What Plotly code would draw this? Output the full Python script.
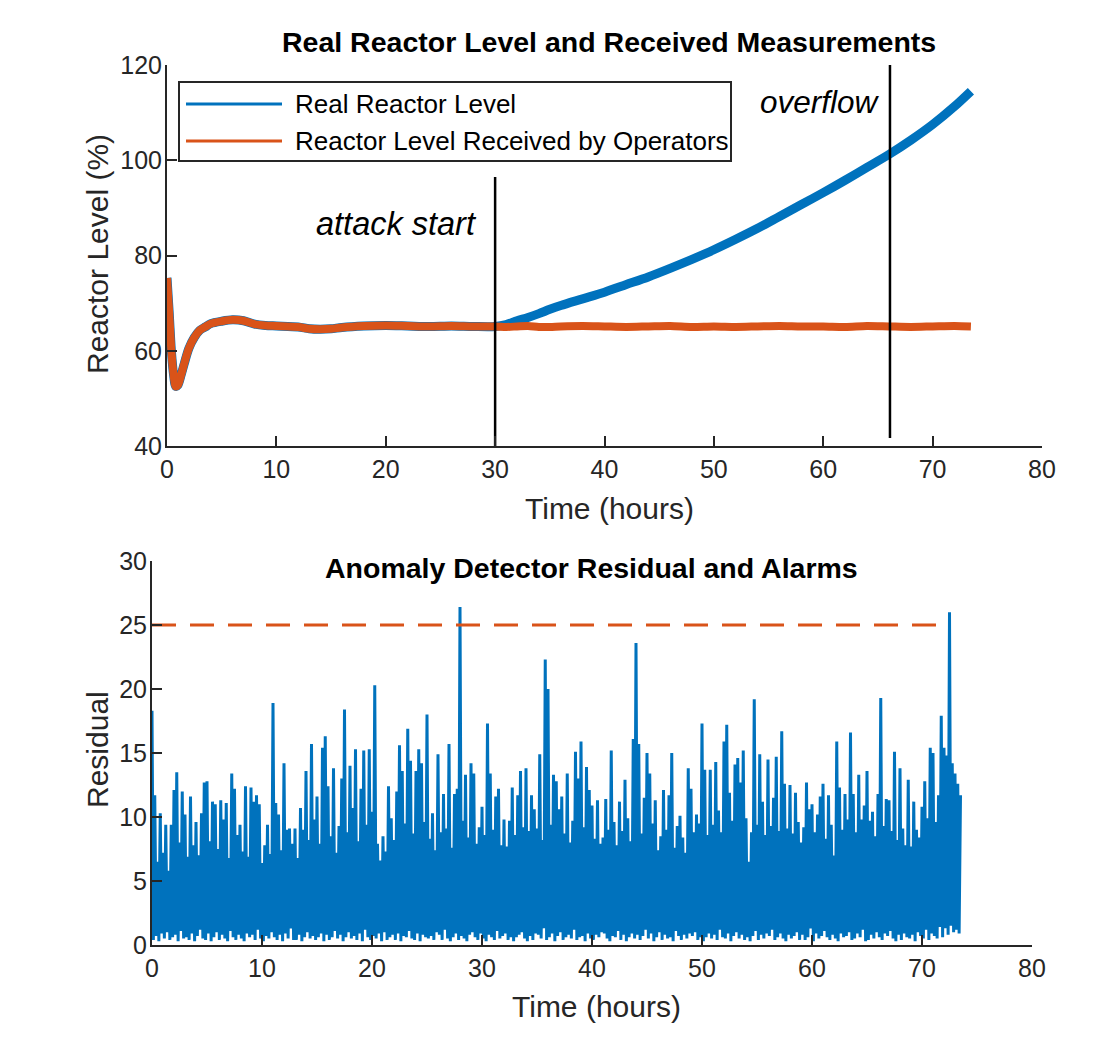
import numpy as np
import plotly.graph_objects as go

# ---------------- data ----------------
# Top panel: reactor level (%), smooth centre-line of the noisy band
level_time = [0, 0.2, 0.4, 0.6, 0.8, 1.0, 1.3, 1.6, 2.0, 2.5, 3.0, 3.5, 4.0, 5.0, 6.0, 7.0,
              8.0, 9.0, 10, 12, 13, 14, 15, 16, 18, 20, 22, 24, 26, 28, 30]
level_common = [75.3, 68.0, 60.0, 55.0, 52.5, 52.8, 55.0, 57.5, 60.5, 62.8, 64.3, 65.0, 65.7,
                66.2, 66.5, 66.3, 65.6, 65.3, 65.2, 65.0, 64.6, 64.5, 64.6, 64.9, 65.2, 65.3,
                65.2, 65.1, 65.2, 65.1, 65.1]

attack_time = [30, 31, 32, 33, 34, 35, 36, 38, 40, 42, 44, 46, 48, 50, 52, 54, 56, 58, 60,
               62, 64, 66, 68, 70, 72, 73.5]
real_after = [65.1, 65.5, 66.3, 67.0, 67.8, 68.7, 69.5, 70.9, 72.3, 73.9, 75.5, 77.3, 79.2,
              81.2, 83.4, 85.7, 88.2, 90.7, 93.2, 95.8, 98.5, 101.2, 104.2, 107.5, 111.3, 114.5]
received_after = [65.1, 65.0, 65.1, 65.2, 65.0, 65.0, 65.1, 65.2, 65.1, 65.0, 65.1, 65.2,
                  65.0, 65.1, 65.0, 65.1, 65.2, 65.1, 65.1, 65.0, 65.2, 65.1, 65.0, 65.1,
                  65.2, 65.1]

ATTACK_START = 30
OVERFLOW_TIME = 66.1
attack_line_y = [40, 96.5]
overflow_line_y = [41.7, 120]

# Bottom panel: residual, local peaks (every 0.25 h) and troughs between them
RESIDUAL_STEP = 0.25
residual_peaks = [
    18.3, 11.7, 6.5, 10.3,   7.2, 9.4, 5.8, 9.4,    12.1, 13.5, 8.0, 12.0,  10.2, 6.9, 11.6, 7.8,
    9.6, 7.0, 10.3, 12.7,    12.8, 8.1, 11.2, 11.0, 7.5, 11.3, 9.8, 11.1,   6.8, 13.4, 12.2, 8.6,
    9.4, 7.3, 12.4, 6.9,     12.3, 11.2, 11.7, 11.0, 6.4, 7.8, 9.4, 7.1,    18.9, 11.1, 10.2, 7.4,
    14.2, 9.0, 9.1, 7.9,     9.1, 6.8, 10.7, 9.0,   13.6, 8.2, 15.7, 9.8,   11.6, 7.9, 15.4, 16.3,
    12.4, 8.5, 13.8, 7.2,    9.3, 13.0, 18.4, 8.8,  14.0, 10.7, 15.3, 8.1,  12.2, 15.2, 9.4, 15.3,
    10.4, 20.3, 7.9, 6.6,    8.5, 7.3, 12.4, 9.9,   8.2, 12.0, 15.6, 13.6,  9.5, 16.9, 14.4, 8.7,
    13.6, 15.3, 14.2, 9.6,   18.0, 8.3, 10.3, 7.4,  14.9, 8.8, 11.8, 9.1,   15.7, 7.6, 11.8, 12.2,
    26.4, 9.7, 13.3, 8.4,    14.2, 13.4, 7.9, 9.2,  10.8, 8.6, 17.3, 13.4,  9.0, 11.6, 12.2, 7.8,
    9.8, 7.7, 9.7, 12.3,     8.6, 11.7, 13.6, 9.2,  13.8, 8.9, 11.7, 10.6,  9.1, 14.9, 8.2, 22.3,
    20.0, 9.4, 13.3, 12.8,   10.6, 11.6, 8.7, 13.4, 8.0, 9.7, 15.1, 13.0,   15.9, 9.2, 13.9, 12.1,
    10.9, 8.3, 11.3, 7.9,    8.4, 11.4, 9.0, 15.2,  9.6, 7.8, 11.2, 8.9,    12.9, 9.9, 8.1, 16.1,
    23.6, 15.7, 8.7, 11.5,   15.0, 13.4, 9.5, 11.3, 7.4, 8.5, 12.1, 9.0,    11.7, 15.0, 7.6, 9.3,
    10.1, 8.4, 7.2, 13.8,    12.2, 8.8, 10.2, 9.5,  17.3, 13.7, 8.6, 13.7,  9.4, 14.3, 10.5, 8.8,
    15.9, 17.2, 11.9, 9.7,   14.1, 14.6, 12.7, 15.2, 9.9, 6.5, 8.8, 19.2,   9.4, 14.9, 11.2, 8.6,
    14.5, 9.3, 11.5, 14.7,   8.9, 16.7, 12.6, 9.1,  12.5, 8.7, 11.9, 9.6,   8.0, 9.2, 12.7, 10.6,
    11.0, 8.8, 10.2, 11.6,   12.6, 8.3, 11.7, 9.4,  7.0, 15.9, 12.3, 9.0,   11.8, 9.8, 16.6, 11.8,
    8.8, 13.3, 9.8, 10.9,    13.6, 9.7, 10.4, 8.5,  11.8, 19.3, 9.3, 11.4,  11.3, 8.9, 15.1, 8.2,
    13.8, 9.1, 7.8, 12.9,    7.7, 11.2, 9.0, 8.4,   10.8, 12.8, 9.9, 15.4,  15.0, 9.6, 11.7, 17.9,
    15.4, 14.8, 26.0, 14.2,  13.4, 12.6, 11.7,
]
residual_troughs = [
    0.4, 0.7, 0.3, 0.9,  0.5, 1.0, 0.4, 0.6,  0.8, 0.3, 1.1, 0.5,  0.6, 0.4, 0.9, 0.3,
    0.7, 1.2, 0.5, 0.4,  0.9, 0.3, 0.6, 1.0,  0.4, 0.8, 0.5, 0.3,  1.1, 0.6, 0.4, 0.8,
    0.5, 0.3, 0.9, 0.6,  0.8, 0.4, 1.2, 0.5,  0.3, 0.7, 0.5, 1.0,  0.6, 0.4, 0.8, 0.3,
    0.9, 0.5, 1.3, 0.4,  0.4, 0.8, 0.3, 0.6,  1.0, 0.5, 0.7, 0.4,  0.6, 0.9, 0.3, 0.8,
    0.4, 0.6, 1.1, 0.5,  0.8, 0.3, 0.6, 1.0,  0.5, 0.7, 0.4, 0.9,  0.3, 1.2, 0.6, 0.4,
    0.7, 0.5, 0.9, 0.3,  1.0, 0.4, 0.6, 0.8,  0.4, 0.9, 0.3, 0.7,  0.6, 1.1, 0.5, 0.4,
    0.9, 0.3, 0.8, 0.6,  0.5, 0.7, 0.4, 1.0,  0.8, 0.4, 1.2, 0.5,  0.3, 0.6, 0.9, 0.4,
    0.7, 0.5, 0.3, 0.8,  1.0, 0.6, 0.4, 0.9,  0.5, 0.3, 0.8, 0.6,  0.4, 1.1, 0.5, 0.7,
    0.9, 0.4, 0.6, 0.3,  0.6, 0.8, 1.0, 0.5,  0.3, 0.7, 0.4, 0.9,  0.8, 0.5, 1.3, 0.4,
    0.6, 0.9, 0.3, 0.7,  1.0, 0.4, 0.6, 0.8,  0.5, 1.2, 0.4, 0.6,  0.7, 0.3, 0.9, 0.5,
    0.4, 0.8, 0.6, 1.0,  0.9, 0.5, 0.3, 0.7,  0.6, 1.1, 0.4, 0.8,  0.3, 0.6, 0.9, 0.5,
    0.8, 0.4, 0.7, 1.2,  0.5, 0.9, 0.3, 0.6,  1.0, 0.4, 0.8, 0.5,  0.6, 0.3, 1.1, 0.7,
    0.4, 0.8, 0.5, 0.9,  0.7, 1.0, 0.4, 0.6,  0.3, 0.6, 0.9, 0.5,  0.8, 0.4, 1.2, 0.6,
    0.5, 0.9, 0.3, 0.7,  1.0, 0.5, 0.8, 0.4,  0.6, 0.3, 0.7, 1.1,  0.4, 0.8, 0.5, 0.9,
    0.7, 1.2, 0.4, 0.6,  0.9, 0.5, 0.3, 0.8,  0.5, 0.7, 1.0, 0.4,  0.8, 0.4, 0.6, 1.3,
    0.3, 0.9, 0.5, 0.7,  1.1, 0.6, 0.4, 0.8,  0.5, 0.3, 0.9, 0.6,  0.7, 1.0, 0.4, 0.5,
    0.9, 0.6, 1.2, 0.3,  0.4, 0.8, 0.5, 1.0,  0.6, 0.4, 0.9, 0.7,  1.1, 0.5, 0.3, 0.8,
    0.4, 0.9, 0.6, 0.5,  0.8, 0.3, 1.0, 0.7,  0.5, 1.2, 0.4, 0.9,  0.7, 0.5, 1.4, 0.6,
    1.3, 0.8, 1.5, 1.0,  1.2, 0.9, 1.1,
]
ALARM_THRESHOLD = 25
threshold_time = [0, 72.3]

x_ticks = [0, 10, 20, 30, 40, 50, 60, 70, 80]
top_y_ticks = [40, 60, 80, 100, 120]
bottom_y_ticks = [0, 5, 10, 15, 20, 25, 30]

# ---------------- styling ----------------
BLUE = "#0072BD"
ORANGE = "#D95319"
AX = "#262626"
FONT = "Liberation Sans, Arial, sans-serif"
W, H = 1099, 1063

def px(xp):
    return xp / W

def py(yp):
    return 1 - yp / H

# build residual zig-zag
res_t, res_v = [], []
for i, pk in enumerate(residual_peaks):
    t = i * RESIDUAL_STEP
    res_t.append(t)
    res_v.append(pk)
    if i < len(residual_peaks) - 1:
        res_t.append(t + RESIDUAL_STEP / 2)
        res_v.append(residual_troughs[i])

fig = go.Figure()

real_t = level_time + attack_time[1:]
real_v = level_common + real_after[1:]
recv_t = level_time + attack_time[1:]
recv_v = level_common + received_after[1:]

fig.add_trace(go.Scatter(x=real_t, y=real_v, mode="lines", name="Real Reactor Level",
                         line=dict(color=BLUE, width=9, shape="spline", smoothing=0.8),
                         showlegend=False, xaxis="x", yaxis="y"))
fig.add_trace(go.Scatter(x=recv_t, y=recv_v, mode="lines",
                         name="Reactor Level Received by Operators",
                         line=dict(color=ORANGE, width=8, shape="spline", smoothing=0.8),
                         showlegend=False, xaxis="x", yaxis="y"))
fig.add_trace(go.Scatter(x=[ATTACK_START, ATTACK_START], y=attack_line_y, mode="lines",
                         line=dict(color="black", width=2.5), showlegend=False,
                         hoverinfo="skip", xaxis="x", yaxis="y"))
fig.add_trace(go.Scatter(x=[OVERFLOW_TIME, OVERFLOW_TIME], y=overflow_line_y, mode="lines",
                         line=dict(color="black", width=2.5), showlegend=False,
                         hoverinfo="skip", xaxis="x", yaxis="y"))

fig.add_trace(go.Scatter(x=res_t, y=res_v, mode="lines", name="Residual",
                         line=dict(color=BLUE, width=3), showlegend=False,
                         xaxis="x2", yaxis="y2"))
fig.add_trace(go.Scatter(x=threshold_time, y=[ALARM_THRESHOLD, ALARM_THRESHOLD], mode="lines",
                         name="Alarm threshold",
                         line=dict(color=ORANGE, width=3, dash="24px,14px"), showlegend=False,
                         xaxis="x2", yaxis="y2"))

axis_common = dict(showline=True, linecolor=AX, linewidth=2, ticks="inside", ticklen=10,
                   tickwidth=2, tickcolor=AX, showgrid=False, zeroline=False,
                   automargin=False,
                   tickfont=dict(size=25, color=AX, family=FONT), mirror=False)

fig.update_layout(
    template="none",
    width=W, height=H, autosize=False,
    margin=dict(l=0, r=0, t=0, b=0, pad=0),
    showlegend=False,
    paper_bgcolor="white", plot_bgcolor="white",
    font=dict(family=FONT, color=AX),
    xaxis=dict(domain=[px(167), px(1042)], range=[0, 80], tickvals=x_ticks, anchor="y",
               **axis_common),
    yaxis=dict(domain=[py(446), py(65)], range=[40, 120], tickvals=top_y_ticks, anchor="x",
               ticklabelstandoff=-2, **axis_common),
    xaxis2=dict(domain=[px(152), px(1032)], range=[0, 80], tickvals=x_ticks, anchor="y2",
                **axis_common),
    yaxis2=dict(domain=[py(945), py(561)], range=[0, 30], tickvals=bottom_y_ticks,
                anchor="x2", ticklabelstandoff=-2, **axis_common),
)

def note(text, x, y, size, color=AX, angle=0, xanchor="center", xref="paper", yref="paper"):
    return dict(text=text, x=x, y=y, xref=xref, yref=yref, showarrow=False,
                xanchor=xanchor, yanchor="middle", textangle=angle,
                font=dict(size=size, color=color, family=FONT))

annotations = [
    note("<b>Real Reactor Level and Received Measurements</b>", px(609), py(42), 28.5, "black"),
    note("<b>Anomaly Detector Residual and Alarms</b>", px(591), py(568), 28.5, "black"),
    note("Time (hours)", px(609), py(508), 30),
    note("Time (hours)", px(596), py(1006), 30),
    note("Reactor Level (%)", px(97), py(254), 30, angle=-90),
    note("Residual", px(97), py(750), 30, angle=-90),
    note("<i>attack start</i>", 20.95, 86.7, 32.5, "black", xref="x", yref="y"),
    note("<i>overflow</i>", 59.7, 112.2, 31.5, "black", xref="x", yref="y"),
    note("Real Reactor Level", px(293), py(104), 26, "black", xanchor="left"),
    note("Reactor Level Received by Operators", px(293), py(141), 26, "black", xanchor="left"),
]
fig.update_layout(annotations=annotations)

shapes = [
    dict(type="rect", xref="paper", yref="paper", x0=px(179), x1=px(731), y0=py(161),
         y1=py(82), line=dict(color=AX, width=2), fillcolor="white", layer="above"),
    dict(type="line", xref="paper", yref="paper", x0=px(186), x1=px(282), y0=py(104),
         y1=py(104), line=dict(color=BLUE, width=3)),
    dict(type="line", xref="paper", yref="paper", x0=px(186), x1=px(282), y0=py(141),
         y1=py(141), line=dict(color=ORANGE, width=3)),
]
fig.update_layout(shapes=shapes)

fig.write_html("out.html", config={"displayModeBar": False},
               post_script="document.body.style.margin='0';")
